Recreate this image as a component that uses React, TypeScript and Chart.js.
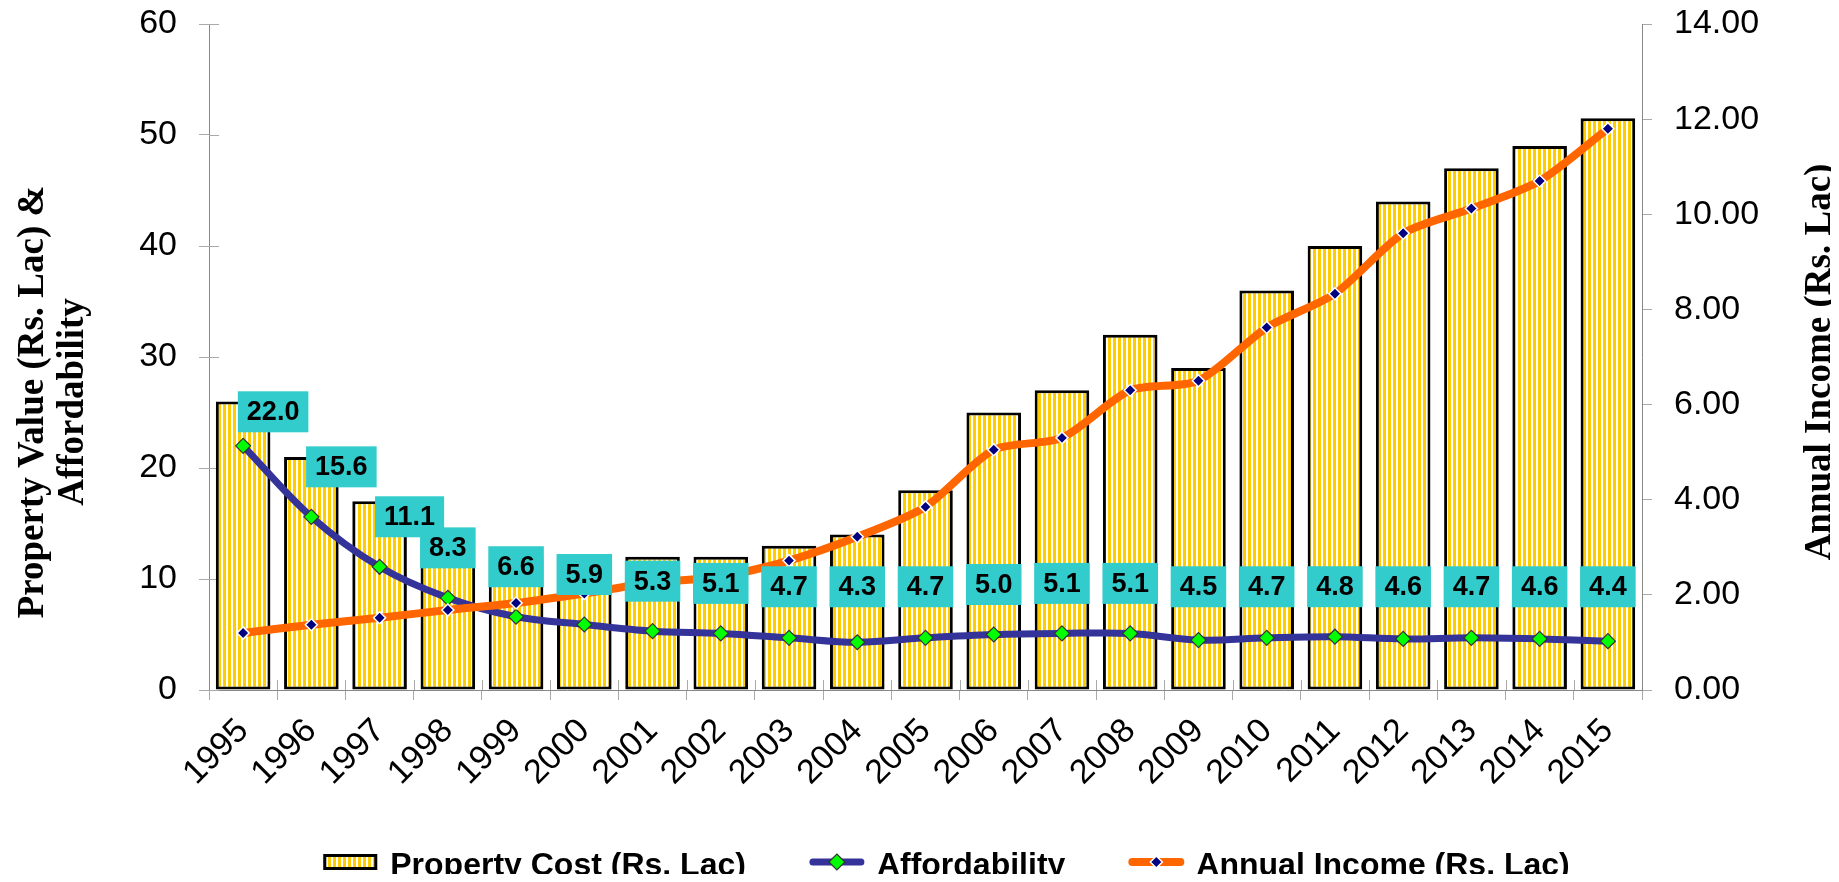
import { useEffect, useRef } from 'react';
import { Chart, registerables } from 'chart.js';

Chart.register(...registerables);

// Years on the category axis
const years = [
  '1995', '1996', '1997', '1998', '1999', '2000', '2001', '2002', '2003', '2004', '2005',
  '2006', '2007', '2008', '2009', '2010', '2011', '2012', '2013', '2014', '2015',
];

// Property cost in Rs. Lac (bars, left axis)
const propertyCost = [26, 21, 17, 14, 12, 12, 12, 12, 13, 14, 18, 25, 27, 32, 29, 36, 40, 44, 47, 49, 51.5];

// Affordability ratio (years of income), left axis
const affordability = [22.0, 15.6, 11.1, 8.3, 6.6, 5.9, 5.3, 5.1, 4.7, 4.3, 4.7, 5.0, 5.1, 5.1, 4.5, 4.7, 4.8, 4.6, 4.7, 4.6, 4.4];

// Annual income in Rs. Lac, right axis
const annualIncome = [1.2, 1.37, 1.52, 1.68, 1.83, 2.03, 2.26, 2.38, 2.72, 3.22, 3.85, 5.05, 5.3, 6.3, 6.5, 7.62, 8.33, 9.6, 10.12, 10.7, 11.8];

const seriesNames = ['Property Cost (Rs. Lac)', 'Affordability', 'Annual Income (Rs. Lac)'];
const leftTitle = ['Property Value (Rs. Lac) &', 'Affordability'];
const rightTitle = 'Annual Income (Rs. Lac)';

const YELLOW = '#FFCC00';
const NAVY_LINE = '#333399';
const ORANGE = '#FF6600';
const GREEN = '#00FF00';
const MARKER_NAVY = '#000080';
const TEAL = '#33CCCC';
const TICK_GREY = '#aaaaaa';
const SANS = '"Liberation Sans", Arial, sans-serif';
const SERIF = '"Liberation Serif", "Times New Roman", serif';

function makeStripes(): CanvasPattern | string {
  const c = document.createElement('canvas');
  c.width = 5;
  c.height = 4;
  const g = c.getContext('2d');
  if (!g) return YELLOW;
  g.fillStyle = YELLOW;
  g.fillRect(0, 0, 5, 4);
  g.fillStyle = '#FFFFFF';
  g.fillRect(3, 0, 2, 4);
  return g.createPattern(c, 'repeat') || YELLOW;
}

function diamond(ctx: CanvasRenderingContext2D, x: number, y: number, r: number, fill: string, stroke: string, lw: number) {
  ctx.beginPath();
  ctx.moveTo(x - r, y);
  ctx.lineTo(x, y - r);
  ctx.lineTo(x + r, y);
  ctx.lineTo(x, y + r);
  ctx.closePath();
  ctx.fillStyle = fill;
  ctx.fill();
  ctx.lineWidth = lw;
  ctx.strokeStyle = stroke;
  ctx.stroke();
}

// Short tick marks that reach inside the plot on the left and bottom axes
const innerTicks = {
  id: 'innerTicks',
  beforeDatasetsDraw(chart: any) {
    const { ctx, chartArea, scales } = chart;
    ctx.save();
    ctx.strokeStyle = TICK_GREY;
    ctx.lineWidth = 1;
    ctx.beginPath();
    scales.y.ticks.forEach((t: any) => {
      const py = Math.round(scales.y.getPixelForValue(t.value)) + 0.5;
      ctx.moveTo(chartArea.left, py);
      ctx.lineTo(chartArea.left + 10, py);
    });
    const n = years.length;
    for (let i = 1; i < n; i++) {
      const px = Math.round((scales.x.getPixelForValue(i - 1) + scales.x.getPixelForValue(i)) / 2) + 0.5;
      ctx.moveTo(px, chartArea.bottom);
      ctx.lineTo(px, chartArea.bottom - 10);
    }
    ctx.stroke();
    ctx.restore();
  },
};

// Teal value boxes over the affordability points
const valueLabels = {
  id: 'valueLabels',
  afterDatasetsDraw(chart: any) {
    const { ctx } = chart;
    const meta = chart.getDatasetMeta(1);
    const yScale = chart.scales.y;
    const band = yScale.getPixelForValue(9.3);
    ctx.save();
    ctx.font = `bold 27px ${SANS}`;
    ctx.textAlign = 'center';
    ctx.textBaseline = 'middle';
    meta.data.forEach((pt: any, i: number) => {
      const v = affordability[i];
      const text = v.toFixed(1);
      const w = ctx.measureText(text).width + 18;
      const h = 41;
      const cx = pt.x + (v >= 10 ? 30 : 0);
      const lift = i === 0 ? 34 : 50;
      const cy = Math.min(pt.y - lift, band);
      ctx.fillStyle = TEAL;
      ctx.fillRect(cx - w / 2, cy - h / 2, w, h);
      ctx.fillStyle = '#000';
      ctx.fillText(text, cx, cy + 1);
    });
    ctx.restore();
  },
};

// Axis titles (both read bottom to top) and the legend row
const extras = {
  id: 'extras',
  afterDraw(chart: any) {
    const { ctx, chartArea, height } = chart;

    ctx.save();
    ctx.font = `bold 37px ${SERIF}`;
    ctx.fillStyle = '#000';
    ctx.textAlign = 'center';
    ctx.textBaseline = 'middle';
    // left title, two lines
    ctx.save();
    ctx.translate(25, 394);
    ctx.rotate(-Math.PI / 2);
    ctx.fillText(leftTitle[0], 0, 0);
    ctx.fillText(leftTitle[1], 0, 40);
    ctx.restore();
    // right title
    ctx.save();
    ctx.translate(1812, (chartArea.top + chartArea.bottom) / 2 + 5);
    ctx.rotate(-Math.PI / 2);
    ctx.fillText(rightTitle, 0, 0);
    ctx.restore();
    ctx.restore();

    ctx.save();
    ctx.font = `bold 32px ${SANS}`;
    ctx.textBaseline = 'alphabetic';
    ctx.fillStyle = '#000';
    const iconW = 54;
    const iconGap = 13;
    const itemGap = 64;
    const widths = seriesNames.map((s) => ctx.measureText(s).width);
    const total = widths.reduce((a, b) => a + b, 0) + seriesNames.length * (iconW + iconGap) + itemGap * (seriesNames.length - 1);
    let x = (chartArea.left + chartArea.right) / 2 + 21 - total / 2;
    const y = height - 20;
    const baseline = height - 7;
    seriesNames.forEach((name, i) => {
      if (i === 0) {
        ctx.fillStyle = makeStripes();
        ctx.fillRect(x, y - 8, iconW, 16);
        ctx.lineWidth = 3;
        ctx.strokeStyle = '#000';
        ctx.strokeRect(x + 1.5, y - 6.5, iconW - 3, 13);
      } else if (i === 1) {
        ctx.beginPath();
        ctx.moveTo(x + 3, y);
        ctx.lineTo(x + iconW - 3, y);
        ctx.lineWidth = 7;
        ctx.strokeStyle = NAVY_LINE;
        ctx.lineCap = 'round';
        ctx.stroke();
        diamond(ctx, x + iconW / 2, y, 8, GREEN, '#333', 1.2);
      } else {
        ctx.beginPath();
        ctx.moveTo(x + 3, y);
        ctx.lineTo(x + iconW - 3, y);
        ctx.lineWidth = 8;
        ctx.strokeStyle = ORANGE;
        ctx.lineCap = 'round';
        ctx.stroke();
        diamond(ctx, x + iconW / 2, y, 6, MARKER_NAVY, '#FFFFFF', 1.5);
      }
      ctx.fillStyle = '#000';
      ctx.textAlign = 'left';
      ctx.fillText(name, x + iconW + iconGap, baseline);
      x += iconW + iconGap + widths[i] + itemGap;
    });
    ctx.restore();
  },
};

const noEdgePadding = (s: any) => {
  s.paddingTop = 0;
  s.paddingBottom = 0;
};

export default function App() {
  const ref = useRef<HTMLCanvasElement>(null);

  useEffect(() => {
    if (!ref.current) return;
    const stripes = makeStripes();
    const tickFont = { family: SANS, size: 34 };
    const chart = new Chart(ref.current, {
      type: 'bar',
      data: {
        labels: years,
        datasets: [
          {
            type: 'bar',
            label: seriesNames[0],
            data: propertyCost,
            yAxisID: 'y',
            backgroundColor: stripes as any,
            borderColor: '#000',
            borderWidth: 3,
            borderSkipped: false,
            categoryPercentage: 1,
            barPercentage: 0.8,
            order: 3,
          },
          {
            type: 'line',
            label: seriesNames[1],
            data: affordability,
            yAxisID: 'y',
            borderColor: NAVY_LINE,
            borderWidth: 7,
            tension: 0.35,
            pointStyle: 'rectRot',
            pointRadius: 7.5,
            pointBackgroundColor: GREEN,
            pointBorderColor: '#333333',
            pointBorderWidth: 1.2,
            order: 2,
          },
          {
            type: 'line',
            label: seriesNames[2],
            data: annualIncome,
            yAxisID: 'y1',
            borderColor: ORANGE,
            borderWidth: 8,
            tension: 0.25,
            pointStyle: 'rectRot',
            pointRadius: 6,
            pointBackgroundColor: MARKER_NAVY,
            pointBorderColor: '#FFFFFF',
            pointBorderWidth: 1.5,
            order: 1,
          },
        ],
      },
      options: {
        animation: false,
        responsive: true,
        maintainAspectRatio: false,
        devicePixelRatio: 1,
        layout: { padding: { top: 16, bottom: 82, left: 0, right: 0 } },
        plugins: {
          legend: { display: false },
          tooltip: { enabled: false },
        },
        scales: {
          x: {
            offset: true,
            grid: { offset: true, drawOnChartArea: false, tickLength: 10, color: TICK_GREY },
            border: { color: '#888888', width: 1 },
            ticks: {
              autoSkip: false,
              minRotation: 45,
              maxRotation: 45,
              padding: 11,
              color: '#000',
              font: { family: SANS, size: 34 },
            },
            afterFit: (s: any) => {
              s.height = 110;
            },
          },
          y: {
            position: 'left',
            min: 0,
            max: 60,
            ticks: { stepSize: 10, padding: 22, color: '#000', font: tickFont },
            grid: { drawOnChartArea: false, tickLength: 10, color: TICK_GREY },
            border: { color: '#888888', width: 1 },
            afterFit: (s: any) => {
              s.width = 201;
              noEdgePadding(s);
            },
          },
          y1: {
            position: 'right',
            min: 0,
            max: 14,
            ticks: {
              stepSize: 2,
              padding: 22,
              color: '#000',
              font: tickFont,
              callback: (v: any) => Number(v).toFixed(2),
            },
            grid: { drawOnChartArea: false, tickLength: 10, color: TICK_GREY },
            border: { color: '#888888', width: 1 },
            afterFit: (s: any) => {
              s.width = 189;
              noEdgePadding(s);
            },
          },
        },
      },
      plugins: [innerTicks, valueLabels, extras],
    } as any);
    return () => chart.destroy();
  }, []);

  return (
    <div style={{ position: 'relative', width: '1823px', height: '874px', marginBottom: '-8px' }}>
      <canvas ref={ref} />
    </div>
  );
}
